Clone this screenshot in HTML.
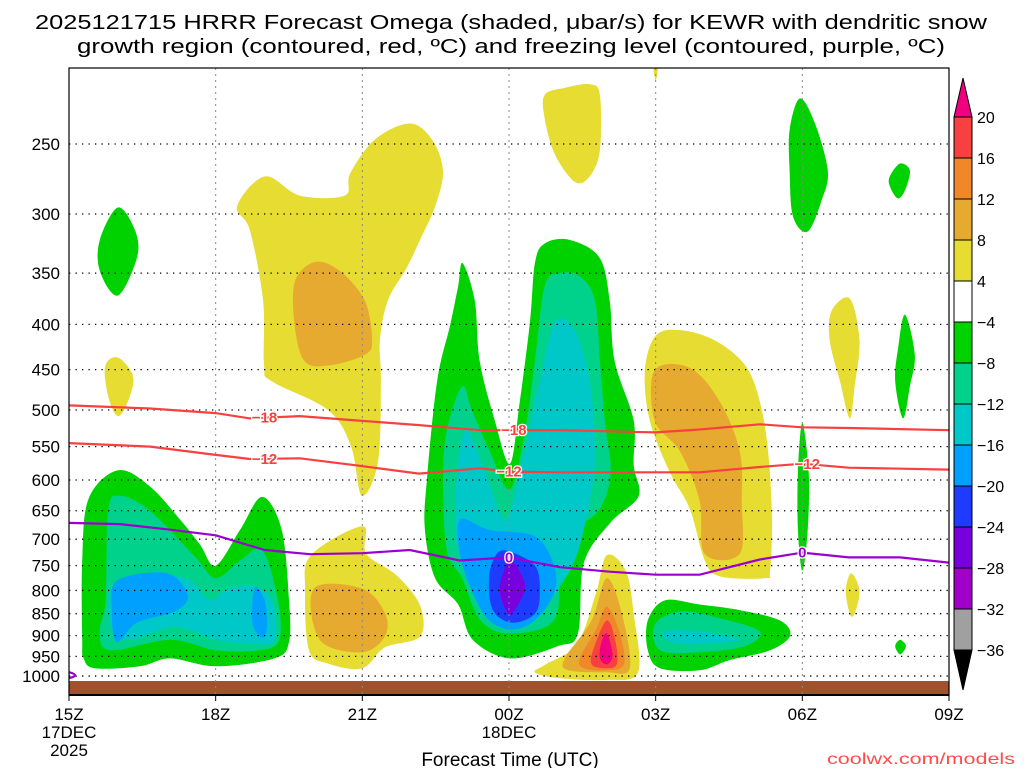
<!DOCTYPE html>
<html><head><meta charset="utf-8"><style>
html,body{margin:0;padding:0;background:#fff;width:1024px;height:768px;overflow:hidden}
svg text{font-family:"Liberation Sans",sans-serif}
</style></head><body>
<svg id="chart" width="1024" height="768" viewBox="0 0 1024 768" xmlns="http://www.w3.org/2000/svg">
<text x="511" y="29" font-size="20" text-anchor="middle" textLength="952" lengthAdjust="spacingAndGlyphs">2025121715 HRRR Forecast Omega (shaded, μbar/s) for KEWR with dendritic snow</text>
<text x="511" y="53" font-size="20" text-anchor="middle" textLength="868" lengthAdjust="spacingAndGlyphs">growth region (contoured, red, ºC) and freezing level (contoured, purple, ºC)</text>
<g id="plot"></g>
<g id="axes"></g>
<g id="cbar"></g>
<text x="510" y="766" font-size="19" text-anchor="middle">Forecast Time (UTC)</text>
<text x="1015" y="764" font-size="16" text-anchor="end" fill="#ff4a4a" textLength="188" lengthAdjust="spacingAndGlyphs">coolwx.com/models</text>
</svg>
<script>
// ---------- data ----------
const timeTicks = [0,3,6,9,12,15,18];
const timeLabels = ["15Z","18Z","21Z","00Z","03Z","06Z","09Z"];
const dateLabels = {0:["17DEC","2025"],9:["18DEC"]};
const pressureTicks = [250,300,350,400,450,500,550,600,650,700,750,800,850,900,950,1000];
const cbarLevels = ["20","16","12","8","4","-4","-8","-12","-16","-20","-24","-28","-32","-36"];
const cbarColors = ["#f84040","#f0882a","#e6aa30","#e6dc32","#ffffff","#00d200","#00d28c","#00c8c8","#00a0ff","#1e3cff","#7800dc","#a000c8","#a0a0a0"];
const levelColor = {y:"#e6dc32",dy:"#e6aa30",o:"#f0882a",r:"#f84040",pk:"#f0007f",g:"#00d200",t:"#00d28c",c:"#00c8c8",lb:"#00a0ff",b:"#1e3cff",p:"#7800dc"};
// omega shaded regions: [level, [[hour since 15Z, hPa], ...]]
const blobs = [
 ["g",[[0.63,321],[1.0,295],[1.35,313],[1.39,336],[1.0,371],[0.63,348]]],
 ["y",[[0.74,446],[1.0,436],[1.31,458],[1.21,488],[1.0,508],[0.8,482]]],
 ["g",[[0.27,910],[0.27,740],[0.4,630],[1.0,585],[1.65,610],[2.27,665],[2.68,710],[3.0,750],[3.5,683],[3.95,627],[4.35,683],[4.5,820],[4.5,915],[4.2,955],[3.0,975],[2.07,955],[1.45,975],[0.53,980],[0.3,955]]],
 ["t",[[0.75,820],[0.8,650],[1.04,625],[1.65,650],[2.6,735],[3.0,775],[3.5,740],[3.95,720],[4.27,820],[4.3,910],[3.9,935],[3.0,935],[2.07,910],[0.84,935],[0.63,890]]],
 ["c",[[0.84,800],[1.35,775],[2.37,775],[2.88,820],[3.2,800],[3.7,790],[4.15,820],[4.2,910],[3.8,920],[3.0,910],[2.17,880],[1.25,910],[0.88,890]]],
 ["lb",[[0.98,780],[2.0,765],[2.43,810],[2.17,845],[1.39,870],[0.98,915],[0.88,850]]],
 ["lb",[[3.8,795],[4.0,820],[4.05,880],[3.95,905],[3.75,870]]],
 ["y",[[3.44,294],[4.01,272],[4.72,286],[5.64,286],[5.75,270],[6.26,247],[6.97,237],[7.42,247],[7.65,268],[7.49,294],[7.18,321],[6.91,345],[6.52,376],[6.36,417],[6.38,464],[6.32,572],[5.99,625],[5.77,550],[5.3,500],[4.15,464],[3.99,445],[3.97,376],[3.7,313]]],
 ["dy",[[4.62,358],[5.03,340],[5.54,348],[6.05,376],[6.2,417],[6.05,433],[5.34,445],[4.83,441],[4.62,403]]],
 ["y",[[4.95,730],[6.0,677],[6.08,727],[6.71,770],[7.18,832],[7.18,902],[6.46,928],[6.0,980],[5.3,968],[4.91,935],[4.83,802]]],
 ["dy",[[5.01,796],[5.99,796],[6.46,848],[6.46,902],[5.99,940],[5.13,910]]],
 ["g",[[8.05,341],[8.3,376],[8.4,440],[8.71,514],[9.02,575],[9.22,489],[9.43,397],[9.53,341],[9.73,324],[10.24,321],[10.85,336],[11.06,376],[11.16,440],[11.55,514],[11.55,577],[11.65,626],[11.08,670],[10.53,745],[10.41,895],[10.0,925],[9.02,955],[8.26,910],[7.96,830],[7.49,775],[7.28,683],[7.32,600],[7.53,464],[7.8,400],[7.96,362]]],
 ["t",[[8.04,470],[8.24,500],[8.61,557],[9.02,615],[9.33,527],[9.53,440],[9.73,362],[10.04,350],[10.45,353],[10.76,376],[10.86,440],[10.96,514],[11.08,588],[10.86,647],[10.39,683],[10.06,750],[9.92,865],[9.02,895],[8.42,865],[8.04,775],[7.73,722],[7.65,600],[7.73,527]]],
 ["c",[[8.1,527],[8.51,588],[8.92,665],[9.22,588],[9.63,464],[9.94,397],[10.35,407],[10.65,464],[10.76,557],[10.65,634],[10.35,739],[9.84,821],[9.53,865],[9.02,876],[8.51,821],[8.0,739],[7.9,634]]],
 ["lb",[[8.0,665],[8.59,683],[9.53,695],[9.92,750],[9.92,806],[9.53,865],[9.06,886],[8.59,865],[8.26,806],[8.0,730]]],
 ["b",[[8.98,722],[9.53,750],[9.63,802],[9.53,850],[9.06,870],[8.67,842],[8.59,775],[8.73,730]]],
 ["p",[[9.06,740],[9.33,790],[9.12,842],[8.98,850],[8.81,802],[8.9,760]]],
 ["y",[[11.0,730],[11.39,760],[11.55,850],[11.64,990],[11.0,1010],[10.0,1005],[9.53,990],[9.75,970],[10.39,920],[10.78,806]]],
 ["dy",[[11.0,775],[11.31,850],[11.47,980],[11.0,990],[10.22,985],[10.14,955],[10.69,865]]],
 ["o",[[11.0,835],[11.27,895],[11.35,970],[11.0,985],[10.53,980],[10.45,955],[10.78,886]]],
 ["r",[[11.0,865],[11.17,910],[11.21,968],[11.0,980],[10.69,970],[10.74,928]]],
 ["pk",[[11.0,895],[11.12,948],[11.0,970],[10.86,955],[10.88,920]]],
 ["y",[[9.73,220],[10.14,216],[10.65,214],[10.86,220],[10.86,254],[10.65,272],[10.35,276],[9.94,257],[9.73,234]]],
 ["y",[[11.95,203],[12.05,203],[12.0,212]]],
 ["y",[[12.0,412],[12.5,406],[13.21,417],[13.83,445],[14.13,489],[14.3,557],[14.38,665],[14.34,760],[14.23,775],[13.31,771],[13.0,739],[12.7,647],[12.29,588],[11.88,514],[11.78,451]]],
 ["dy",[[11.98,451],[12.7,448],[13.31,489],[13.72,557],[13.76,634],[13.72,727],[13.0,727],[12.9,634],[12.5,557],[11.98,514]]],
 ["g",[[11.84,865],[12.19,821],[12.9,830],[13.72,842],[14.54,865],[14.75,900],[14.34,935],[13.52,959],[12.9,985],[12.09,980],[11.84,935]]],
 ["t",[[11.98,875],[12.5,845],[13.31,860],[14.13,890],[13.83,925],[12.9,940],[12.09,935]]],
 ["c",[[12.19,890],[12.9,890],[13.72,910],[12.9,920],[12.29,915]]],
 ["g",[[14.74,241],[14.95,222],[15.26,237],[15.52,268],[15.4,289],[15.11,314],[14.81,302],[14.74,268]]],
 ["g",[[16.79,272],[17.0,263],[17.2,268],[17.1,282],[16.95,288],[16.79,279]]],
 ["y",[[15.6,386],[15.97,374],[16.17,417],[16.07,470],[15.97,511],[15.77,464],[15.56,417]]],
 ["g",[[17.1,390],[17.3,433],[17.2,470],[17.06,511],[16.9,464],[16.96,425]]],
 ["g",[[15.0,517],[15.13,588],[15.11,683],[15.0,760],[14.91,683],[14.91,588]]],
 ["y",[[16.0,765],[16.17,800],[16.07,850],[15.97,850],[15.89,800]]],
 ["g",[[16.9,925],[17.0,910],[17.12,925],[17.0,945]]]
];
const lineHours = [0,1.66,3,3.7,4.72,5.93,7.16,8.41,9,10.04,12,12.9,14.13,15,15.95,18];
const iso18 = [494,498,504,511,508,514,520,527,527,527,530,526,519,523,524,527];
const iso12 = [545,550,562,568,567,578,590,582,587,588,588,588,580,575,581,584];
const frzHours = [0,1.04,2.07,3,4,4.93,6,6.97,7.99,9,10.04,11.06,12,12.9,14.13,15,15.95,17,18];
const frz0 = [671,673,683,693,720,728,726,720,740,734,753,762,768,768,738,725,734,734,744];
// ---------- axes functions ----------
const X0=69,X1=949,Y0=68,Y1=695;
const xs = h => X0 + (X1-X0)*h/18;
const ys = p => 144 + 383.8*Math.log(p/250);
const NS="http://www.w3.org/2000/svg";
function mk(tag,attrs,parent){const e=document.createElementNS(NS,tag);for(const k in attrs)e.setAttribute(k,attrs[k]);parent.appendChild(e);return e;}
function smooth(pts){
  const n=pts.length;let d="M"+pts[0][0].toFixed(1)+","+pts[0][1].toFixed(1);
  for(let i=0;i<n;i++){const p0=pts[(i-1+n)%n],p1=pts[i],p2=pts[(i+1)%n],p3=pts[(i+2)%n];
    const c1=[p1[0]+(p2[0]-p0[0])/6,p1[1]+(p2[1]-p0[1])/6],c2=[p2[0]-(p3[0]-p1[0])/6,p2[1]-(p3[1]-p1[1])/6];
    d+="C"+c1[0].toFixed(1)+","+c1[1].toFixed(1)+" "+c2[0].toFixed(1)+","+c2[1].toFixed(1)+" "+p2[0].toFixed(1)+","+p2[1].toFixed(1);}
  return d+"Z";}
function openSmooth(pts){
  let d="M"+pts[0][0].toFixed(1)+","+pts[0][1].toFixed(1);
  for(let i=1;i<pts.length;i++)d+="L"+pts[i][0].toFixed(1)+","+pts[i][1].toFixed(1);return d;}
const plot=document.getElementById('plot'),axes=document.getElementById('axes'),cb=document.getElementById('cbar');
mk('clipPath',{id:'clip'},plot);
mk('rect',{x:X0,y:Y0,width:X1-X0,height:Y1-Y0},document.getElementById('clip'));
const g=mk('g',{'clip-path':'url(#clip)'},plot);
blobs.forEach((b,i)=>{
  const el=mk('path',{d:smooth(b[1].map(q=>[xs(q[0]),ys(q[1])])),fill:levelColor[b[0]]},g);
  
  
});
// ground
const gr=mk('rect',{x:X0,y:681,width:X1-X0,height:Y1-681,fill:'#a0522d'},g);


// grid
pressureTicks.forEach(p=>{
  const l=mk('line',{x1:X0,x2:X1,y1:ys(p),y2:ys(p),stroke:'#000','stroke-width':1.3,'stroke-dasharray':'1.3,5.2'},g);
  
  
});
timeTicks.slice(1,-1).forEach(h=>{
  const l=mk('line',{x1:xs(h),x2:xs(h),y1:Y0,y2:Y1,stroke:'#888','stroke-width':1,'stroke-dasharray':'2,4'},g);
  
  
});
// isotherms
function drawLine(hs,ps,color,name){
  const el=mk('path',{d:openSmooth(hs.map((h,i)=>[xs(h),ys(ps[i])])),fill:'none',stroke:color,'stroke-width':2.2},g);
  
  
}
drawLine(lineHours,iso18,'#f84040','isotherm-minus-18');
drawLine(lineHours,iso12,'#f84040','isotherm-minus-12');
drawLine(frzHours,frz0,'#9b00d0','freezing-level-0');
const lp=mk('path',{d:`M${X0},${ys(990)} q12,3 0,6`,fill:'none',stroke:'#9b00d0','stroke-width':2.2},g);


const lineLabels=[["-18",4,iso18,lineHours,'#f84040'],["-18",9.1,iso18,lineHours,'#f84040'],["-12",4,iso12,lineHours,'#f84040'],["-12",9,iso12,lineHours,'#f84040'],["-12",15.1,iso12,lineHours,'#f84040'],["0",9,frz0,frzHours,'#9b00d0'],["0",15,frz0,frzHours,'#9b00d0']];
lineLabels.forEach(L=>{
  const hs=L[3],ps=L[2];let k=0;while(k<hs.length-2&&hs[k+1]<L[1])k++;
  const f=(L[1]-hs[k])/(hs[k+1]-hs[k]);const p=ps[k]+(ps[k+1]-ps[k])*f;
  const x=xs(L[1]),y=ys(p);
  const t=mk('text',{x:x,y:y+5,'font-size':15,'font-weight':'bold','text-anchor':'middle',fill:L[4],stroke:'#fff','stroke-width':2.5,'paint-order':'stroke'},g);
  t.textContent=L[0].replace('-','\u2212');
  
  
});
// frame
mk('rect',{x:X0,y:Y0,width:X1-X0,height:Y1-Y0,fill:'none',stroke:'#000','stroke-width':1.2},axes);
mk('line',{x1:X0,x2:X1,y1:Y1,y2:Y1,stroke:'#000','stroke-width':2},axes);
pressureTicks.forEach(p=>{
  const t=mk('text',{x:60,y:ys(p)+6,'font-size':17,'text-anchor':'end'},axes);
  t.textContent=p;
  
  
});
timeTicks.forEach((h,i)=>{
  mk('line',{x1:xs(h),x2:xs(h),y1:Y1,y2:Y1+6,stroke:'#000'},axes);
  const t=mk('text',{x:xs(h),y:720,'font-size':17,'text-anchor':'middle'},axes);
  t.textContent=timeLabels[i];
  
  
  (dateLabels[h]||[]).forEach((s,j)=>{
    const d=mk('text',{x:xs(h),y:738+j*18,'font-size':17,'text-anchor':'middle'},axes);
    d.textContent=s;
    
    
  });
});
// colorbar
const CX=954,CW=18,CT=117,CS=41;
const tp=mk('path',{d:`M${CX},${CT} L${CX+CW/2},78 L${CX+CW},${CT}Z`,fill:'#f0007f',stroke:'#000'},cb);


cbarColors.forEach((c,i)=>{
  const r=mk('rect',{x:CX,y:CT+i*CS,width:CW,height:CS,fill:c,stroke:'#000','stroke-width':1},cb);
  
  
});
const bp=mk('path',{d:`M${CX},${CT+13*CS} L${CX+CW/2},690 L${CX+CW},${CT+13*CS}Z`,fill:'#000',stroke:'#000'},cb);


cbarLevels.forEach((s,i)=>{
  const t=mk('text',{x:977,y:CT+i*CS+6,'font-size':16},cb);
  t.textContent=s.replace('-','\u2212');
  
  
});
</script>
</body></html>
